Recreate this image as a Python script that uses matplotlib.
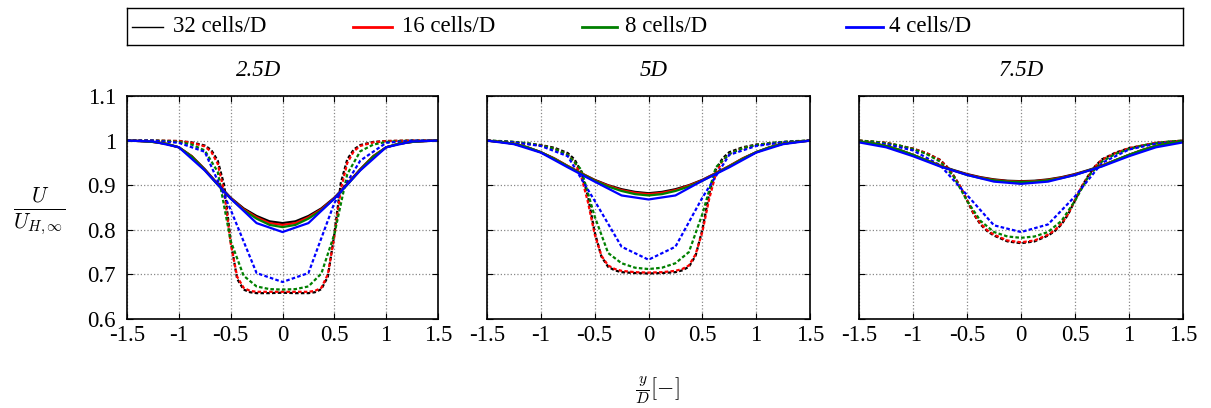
import matplotlib
matplotlib.use('Agg')
import matplotlib.pyplot as plt
from matplotlib.lines import Line2D

plt.rcParams['font.family'] = ['Liberation Serif', 'DejaVu Serif']
plt.rcParams['mathtext.fontset'] = 'cm'

# y/D positions of the profiles for each grid resolution
y_4 = [-1.5, -1.25, -1.0, -0.75, -0.5, -0.25, 0.0, 0.25, 0.5, 0.75, 1.0, 1.25, 1.5]
y_8 = [-1.5, -1.375, -1.25, -1.125, -1.0, -0.875, -0.75, -0.625, -0.5, -0.375, -0.25, -0.125, 0.0,
       0.125, 0.25, 0.375, 0.5, 0.625, 0.75, 0.875, 1.0, 1.125, 1.25, 1.375, 1.5]
y_fine = [-1.5, -1.25, -1.0, -0.875, -0.75, -0.6875, -0.625, -0.5625, -0.5, -0.4375, -0.375, -0.3125, -0.25, -0.125, 0.0,
          0.125, 0.25, 0.3125, 0.375, 0.4375, 0.5, 0.5625, 0.625, 0.6875, 0.75, 0.875, 1.0, 1.25, 1.5]

titles = ['2.5D', '5D', '7.5D']
labels = ['32 cells/D', '16 cells/D', '8 cells/D', '4 cells/D']
colors = ['black', 'red', 'green', 'blue']

# ---- 2.5D ----
p1_solid_32 = [1.0, 0.999, 0.997, 0.993, 0.985, 0.965, 0.936, 0.903, 0.872, 0.848, 0.831, 0.819, 0.815,
               0.819, 0.831, 0.848, 0.872, 0.903, 0.936, 0.965, 0.985, 0.993, 0.997, 0.999, 1.0]
p1_solid_16 = [1.0, 0.999, 0.997, 0.993, 0.985, 0.965, 0.935, 0.902, 0.871, 0.846, 0.828, 0.815, 0.811,
               0.815, 0.828, 0.846, 0.871, 0.902, 0.935, 0.965, 0.985, 0.993, 0.997, 0.999, 1.0]
p1_solid_8 = [1.0, 0.999, 0.997, 0.993, 0.985, 0.964, 0.934, 0.901, 0.870, 0.844, 0.825, 0.811, 0.806,
              0.811, 0.825, 0.844, 0.870, 0.901, 0.934, 0.964, 0.985, 0.993, 0.997, 0.999, 1.0]
p1_solid_4 = [1.0, 0.998, 0.985, 0.933, 0.870, 0.815, 0.795, 0.815, 0.870, 0.933, 0.985, 0.998, 1.0]

p1_dash_32 = [1.0, 1.0, 0.999, 0.996, 0.989, 0.979, 0.955, 0.900, 0.775, 0.690, 0.666, 0.660, 0.658, 0.658, 0.659,
              0.658, 0.658, 0.660, 0.667, 0.695, 0.790, 0.905, 0.958, 0.980, 0.990, 0.997, 0.999, 1.0, 1.0]
p1_dash_16 = [1.0, 1.0, 0.999, 0.995, 0.987, 0.975, 0.948, 0.885, 0.770, 0.695, 0.670, 0.663, 0.661, 0.661, 0.661,
              0.661, 0.661, 0.663, 0.670, 0.700, 0.785, 0.890, 0.950, 0.976, 0.988, 0.996, 0.999, 1.0, 1.0]
p1_dash_8 = [1.0, 1.0, 1.0, 0.999, 0.997, 0.991, 0.978, 0.930, 0.775, 0.697, 0.673, 0.667, 0.666,
             0.667, 0.673, 0.702, 0.790, 0.925, 0.976, 0.991, 0.997, 0.999, 1.0, 1.0, 1.0]
p1_dash_4 = [1.0, 1.0, 0.995, 0.975, 0.845, 0.703, 0.683, 0.703, 0.860, 0.955, 0.995, 1.0, 1.0]

# ---- 5D ----
p2_solid_32 = [1.0, 0.997, 0.993, 0.985, 0.974, 0.960, 0.943, 0.927, 0.912, 0.900, 0.891, 0.885, 0.882,
               0.885, 0.891, 0.900, 0.912, 0.927, 0.943, 0.960, 0.974, 0.985, 0.993, 0.997, 1.0]
p2_solid_16 = [1.0, 0.997, 0.993, 0.985, 0.974, 0.960, 0.943, 0.927, 0.911, 0.899, 0.889, 0.883, 0.880,
               0.883, 0.889, 0.899, 0.911, 0.927, 0.943, 0.960, 0.974, 0.985, 0.993, 0.997, 1.0]
p2_solid_8 = [1.0, 0.997, 0.993, 0.985, 0.974, 0.959, 0.942, 0.926, 0.910, 0.897, 0.887, 0.880, 0.877,
              0.880, 0.887, 0.897, 0.910, 0.926, 0.942, 0.959, 0.974, 0.985, 0.993, 0.997, 1.0]
p2_solid_4 = [1.0, 0.992, 0.973, 0.940, 0.908, 0.877, 0.868, 0.877, 0.910, 0.940, 0.973, 0.992, 1.0]

p2_dash_32 = [1.0, 0.997, 0.990, 0.984, 0.972, 0.958, 0.930, 0.875, 0.795, 0.740, 0.717, 0.709, 0.705, 0.703, 0.702,
              0.703, 0.705, 0.709, 0.717, 0.742, 0.800, 0.880, 0.935, 0.960, 0.974, 0.985, 0.991, 0.997, 1.0]
p2_dash_16 = [1.0, 0.996, 0.989, 0.982, 0.968, 0.952, 0.920, 0.862, 0.790, 0.742, 0.720, 0.712, 0.708, 0.705, 0.704,
              0.705, 0.708, 0.712, 0.720, 0.745, 0.795, 0.868, 0.925, 0.955, 0.970, 0.983, 0.990, 0.996, 1.0]
p2_dash_8 = [1.0, 0.999, 0.997, 0.994, 0.989, 0.982, 0.968, 0.935, 0.830, 0.748, 0.725, 0.715, 0.712,
             0.715, 0.725, 0.750, 0.835, 0.940, 0.970, 0.983, 0.990, 0.994, 0.997, 0.999, 1.0]
p2_dash_4 = [1.0, 0.996, 0.988, 0.965, 0.865, 0.762, 0.733, 0.762, 0.872, 0.968, 0.988, 0.996, 1.0]

# ---- 7.5D ----
p3_solid_32 = [0.998, 0.994, 0.988, 0.979, 0.968, 0.956, 0.944, 0.934, 0.925, 0.918, 0.913, 0.910, 0.909,
               0.910, 0.913, 0.918, 0.925, 0.934, 0.944, 0.956, 0.968, 0.979, 0.988, 0.994, 0.998]
p3_solid_16 = [0.998, 0.994, 0.988, 0.979, 0.968, 0.956, 0.944, 0.933, 0.924, 0.917, 0.912, 0.909, 0.908,
               0.909, 0.912, 0.917, 0.924, 0.933, 0.944, 0.956, 0.968, 0.979, 0.988, 0.994, 0.998]
p3_solid_8 = [0.998, 0.994, 0.988, 0.979, 0.968, 0.956, 0.943, 0.933, 0.923, 0.916, 0.911, 0.908, 0.907,
              0.908, 0.911, 0.916, 0.923, 0.933, 0.943, 0.956, 0.968, 0.979, 0.988, 0.994, 0.998]
p3_solid_4 = [0.996, 0.985, 0.965, 0.942, 0.923, 0.908, 0.903, 0.908, 0.923, 0.942, 0.965, 0.985, 0.996]

p3_dash_32 = [1.0, 0.995, 0.982, 0.972, 0.957, 0.942, 0.922, 0.897, 0.866, 0.835, 0.812, 0.797, 0.787, 0.774, 0.770,
              0.774, 0.787, 0.797, 0.812, 0.835, 0.866, 0.897, 0.922, 0.943, 0.958, 0.973, 0.983, 0.995, 1.0]
p3_dash_16 = [1.0, 0.995, 0.982, 0.972, 0.956, 0.941, 0.921, 0.897, 0.867, 0.836, 0.814, 0.799, 0.789, 0.776, 0.772,
              0.776, 0.789, 0.799, 0.814, 0.836, 0.867, 0.897, 0.921, 0.942, 0.957, 0.972, 0.983, 0.995, 1.0]
p3_dash_8 = [1.0, 0.998, 0.994, 0.989, 0.981, 0.970, 0.953, 0.920, 0.865, 0.820, 0.795, 0.785, 0.782,
             0.785, 0.795, 0.820, 0.865, 0.920, 0.953, 0.970, 0.981, 0.989, 0.994, 0.998, 1.0]
p3_dash_4 = [0.998, 0.992, 0.978, 0.945, 0.878, 0.810, 0.795, 0.812, 0.875, 0.950, 0.980, 0.993, 0.998]

panels = [
    ([p1_solid_32, p1_solid_16, p1_solid_8, p1_solid_4], [p1_dash_32, p1_dash_16, p1_dash_8, p1_dash_4]),
    ([p2_solid_32, p2_solid_16, p2_solid_8, p2_solid_4], [p2_dash_32, p2_dash_16, p2_dash_8, p2_dash_4]),
    ([p3_solid_32, p3_solid_16, p3_solid_8, p3_solid_4], [p3_dash_32, p3_dash_16, p3_dash_8, p3_dash_4]),
]
solid_y = [y_8, y_8, y_8, y_4]
dash_y = [y_fine, y_fine, y_8, y_4]

W, H = 1211, 408
fig = plt.figure(figsize=(W / 100, H / 100), dpi=100)

# axes boxes in pixels (left, right), common top/bottom
boxes = [(127, 438), (487, 810), (859, 1183)]
top, bottom = 96, 319
title_x = [259, 654, 1021]

for i, ((solids, dashes), (x0, x1)) in enumerate(zip(panels, boxes)):
    ax = fig.add_axes([x0 / W, (H - bottom) / H, (x1 - x0) / W, (bottom - top) / H])
    for yy, vals, c in zip(dash_y, dashes, colors):
        ax.plot(yy, vals, color=c, lw=1.6, linestyle=(0, (1.6, 1.0)))
    for yy, vals, c in zip(solid_y, solids, colors):
        ax.plot(yy, vals, color=c, lw=1.6)
    ax.set_xlim(-1.5, 1.5)
    ax.set_ylim(0.6, 1.1)
    ax.set_xticks([-1.5, -1, -0.5, 0, 0.5, 1, 1.5])
    ax.set_xticklabels(['-1.5', '-1', '-0.5', '0', '0.5', '1', '1.5'])
    ax.set_yticks([0.6, 0.7, 0.8, 0.9, 1.0, 1.1])
    if i == 0:
        ax.set_yticklabels(['0.6', '0.7', '0.8', '0.9', '1', '1.1'])
    else:
        ax.set_yticklabels([])
    ax.tick_params(direction='in', length=4, width=0.8, top=True, right=True, labelsize=16.5)
    ax.tick_params(axis='x', pad=4)
    ax.tick_params(axis='y', pad=8)
    ax.grid(True, color='#888888', linestyle=':', linewidth=0.9)
    for s in ax.spines.values():
        s.set_linewidth(1.2)
    fig.text(title_x[i] / W, 1 - 70 / H, titles[i], ha='center', va='center',
             fontsize=16.5, style='italic')

# legend box across the top
lax = fig.add_axes([127 / W, 1 - 45 / H, (1183 - 127) / W, 37 / H])
lax.set_xlim(127, 1183)
lax.set_ylim(0, 1)
lax.set_xticks([])
lax.set_yticks([])
for s in lax.spines.values():
    s.set_linewidth(1.0)
leg_line = [(132, 163), (353, 392), (582, 617), (846, 883)]
leg_text = [173, 402, 625, 889]
leg_lw = [1.0, 2.0, 2.0, 2.0]
for (a, b), tx, lab, c, lw in zip(leg_line, leg_text, labels, colors, leg_lw):
    lax.add_line(Line2D([a, b], [0.5, 0.5], color=c, lw=lw))
    lax.text(tx, 0.5, lab, ha='left', va='center', fontsize=16.5)

fig.text(39 / W, 1 - 211 / H, r'$\frac{U}{U_{H,\infty}}$', ha='center', va='center', fontsize=22)
fig.text(657 / W, 1 - 390 / H, r'$\frac{y}{D}[-]$', ha='center', va='center', fontsize=16)

fig.savefig('out.png', dpi=100)
